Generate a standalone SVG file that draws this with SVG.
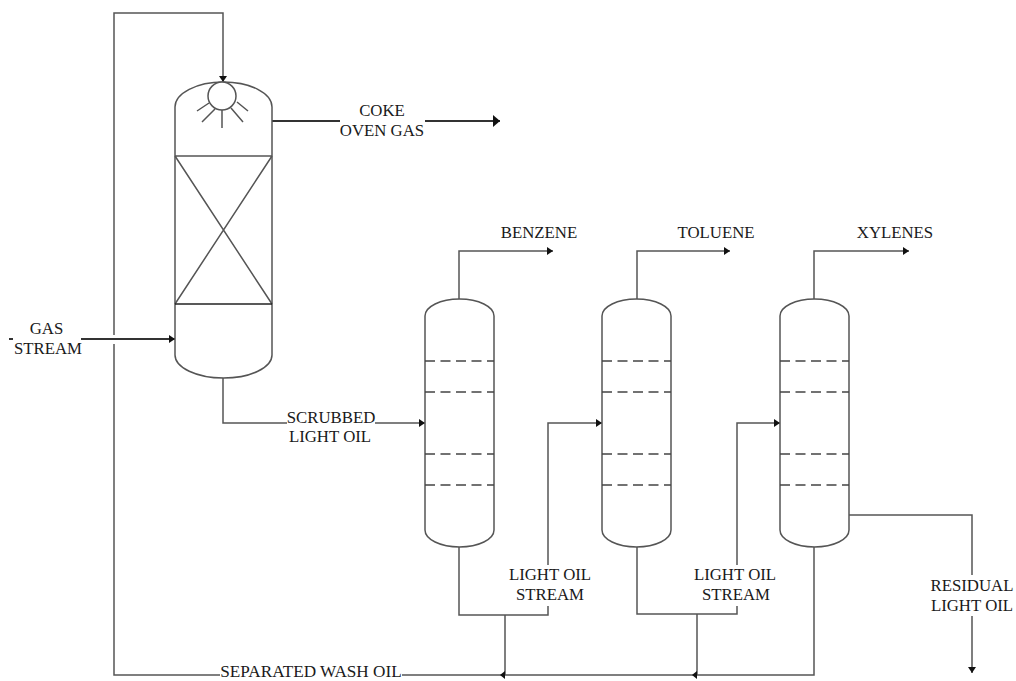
<svg xmlns="http://www.w3.org/2000/svg" width="1016" height="681" viewBox="0 0 1016 681">
<style>
text{font-family:"Liberation Serif","Times New Roman",serif;font-size:16.8px;fill:#1a1a1a;text-anchor:middle}
.l{fill:none;stroke:#555;stroke-width:1.5}
.v{fill:#fff;stroke:#555;stroke-width:1.5}
.d{fill:none;stroke:#444;stroke-width:1.3;stroke-dasharray:10 5.5}
.t{fill:none;stroke:#333;stroke-width:2}
.k{fill:none;stroke:#222;stroke-width:1.3}
</style>
<defs>
<marker id="a" markerUnits="userSpaceOnUse" markerWidth="7" markerHeight="10" refX="6" refY="5" orient="auto"><path d="M0 1L6 5L0 9Z" fill="#111"/></marker>
<marker id="b" markerUnits="userSpaceOnUse" markerWidth="8" markerHeight="14" refX="7" refY="7" orient="auto"><path d="M0 1L7 7L0 13Z" fill="#111"/></marker>
</defs>
<g id="connectors">
<path class="l" d="M114 335V13H223V82" marker-end="url(#a)"/>
<path class="l" d="M114 344V675H220"/>
<path class="t" d="M272 121H340M425 121H500" marker-end="url(#b)"/>
<path class="t" d="M9 339H13M81 339H175" marker-end="url(#a)"/>
<path class="l" d="M223 378V423H287M375 423H425" marker-end="url(#a)"/>
<path class="l" d="M459 299V251H553" marker-end="url(#a)"/>
<path class="l" d="M637 299V251H730" marker-end="url(#a)"/>
<path class="l" d="M814 299V251H909" marker-end="url(#a)"/>
<path class="l" d="M459 547V615H548V606M548 565V423H602" marker-end="url(#a)"/>
<path class="l" d="M637 547V614H737V606M737 565V423H780" marker-end="url(#a)"/>
<path class="l" d="M814 547V675H402"/>
<path class="l" d="M505 615V675M697 614V675"/>
<path d="M505 671L500 675L505 679ZM697 671L692 675L697 679Z" fill="#111"/>
<path class="l" d="M849 515H972V575M972 616V673" marker-end="url(#a)"/>
</g>
<g id="absorber">
<path class="v" d="M175 107A48.500 25 0 0 1 272 107V355A48.500 23 0 0 1 175 355Z"/>
<path class="l" d="M175 156H272M175 156L272 304M272 156L175 304"/>
<path class="k" d="M175 304H272"/>
<circle class="v" cx="222" cy="96" r="14"/>
<path class="l" d="M209 103L197 111M215 109L202 122M222 110V128M231 108L243 122M237 102L248 111"/>
</g>
<g id="column-1">
<path class="v" d="M425 316A34.500 17 0 0 1 494 316V530A34.500 17 0 0 1 425 530Z"/>
<path class="d" d="M425 361H494M425 392H494M425 454H494M425 485H494"/>
</g>
<g id="column-2">
<path class="v" d="M602 316A34.500 17 0 0 1 671 316V530A34.500 17 0 0 1 602 530Z"/>
<path class="d" d="M602 361H671M602 392H671M602 454H671M602 485H671"/>
</g>
<g id="column-3">
<path class="v" d="M780 316A34.500 17 0 0 1 849 316V530A34.500 17 0 0 1 780 530Z"/>
<path class="d" d="M780 361H849M780 392H849M780 454H849M780 485H849"/>
</g>
<g id="labels">
<text x="382" y="116">COKE</text>
<text x="382" y="136">OVEN GAS</text>
<text x="539" y="238">BENZENE</text>
<text x="716" y="238">TOLUENE</text>
<text x="895" y="238">XYLENES</text>
<text x="46.500" y="334">GAS</text>
<text x="48" y="354">STREAM</text>
<text x="331" y="423">SCRUBBED</text>
<text x="330" y="442">LIGHT OIL</text>
<text x="550" y="580">LIGHT OIL</text>
<text x="550" y="600">STREAM</text>
<text x="735" y="580">LIGHT OIL</text>
<text x="736" y="600">STREAM</text>
<text x="972" y="591">RESIDUAL</text>
<text x="972" y="611">LIGHT OIL</text>
<text x="311" y="677" style="font-size:17.200px">SEPARATED WASH OIL</text>
</g>
</svg>
